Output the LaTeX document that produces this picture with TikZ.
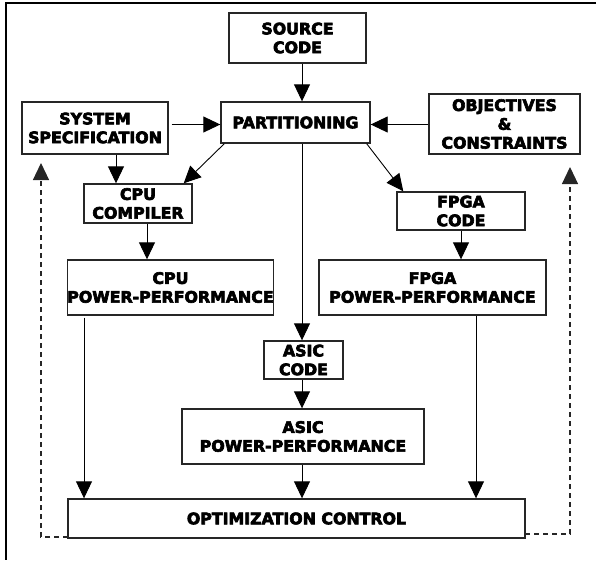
\documentclass[tikz,border=0pt]{standalone}
\usepackage{fontspec}
\newfontfamily\boxfont{DejaVu Sans}[BoldFeatures={FakeBold=4}]
\usetikzlibrary{arrows.meta,calc}
\begin{document}
\begin{tikzpicture}[x=1pt,y=-1pt,
  blk/.style={draw=black!85,line width=1.4pt,inner sep=0pt,align=center,
    font=\boxfont\bfseries\fontsize{15.8}{18.8}\selectfont},
  arr/.style={line width=0.9pt,-{Triangle[length=17pt,width=16pt]}},
  darr/.style={line width=1.2pt,dash pattern=on 5pt off 4pt,draw=black!85,-{Triangle[length=17pt,width=16pt]}}]
\useasboundingbox (0,0) rectangle (597,560);
\draw[line width=2pt] (596,2.5) -- (6,2.5) -- (6,560);
% boxes
\node[blk,minimum width=137pt,minimum height=50pt] (src) at (297.5,38) {SOURCE\\CODE};
\node[blk,minimum width=149pt,minimum height=41pt] (part) at (295.5,122.5) {PARTITIONING};
\node[blk,minimum width=146pt,minimum height=52pt] (sys) at (95,128) {SYSTEM\\SPECIFICATION};
\node[blk,minimum width=151pt,minimum height=60pt] (obj) at (504.5,124) {OBJECTIVES\\\&\\CONSTRAINTS};
\node[blk,minimum width=108pt,minimum height=39pt] (cpuc) at (138,203.5) {CPU\\COMPILER};
\node[blk,minimum width=128pt,minimum height=38pt] (fpgac) at (461,211) {FPGA\\CODE};
\node[blk,minimum width=205pt,minimum height=55pt] (cpupp) at (170.5,287.5) {CPU\\POWER-PERFORMANCE};
\node[blk,minimum width=227pt,minimum height=55pt] (fpgapp) at (432.5,287.5) {FPGA\\POWER-PERFORMANCE};
\node[blk,minimum width=79pt,minimum height=38pt] (asicc) at (303.5,360) {ASIC\\CODE};
\node[blk,minimum width=242pt,minimum height=55pt] (asicpp) at (303,436.5) {ASIC\\POWER-PERFORMANCE};
\node[blk,minimum width=457pt,minimum height=39pt] (opt) at (296.5,518.5) {OPTIMIZATION CONTROL};
% helper coordinates
\coordinate (cx) at (302,0);
\coordinate (cy) at (0,124.5);
\coordinate (c1) at (116,0);
\coordinate (c2) at (147,0);
\coordinate (c3) at (84,0);
\coordinate (c4) at (476,0);
\coordinate (dl) at (41,163);
\coordinate (dr) at (570,167);
\coordinate (dls) at (68,537);
\coordinate (drs) at (525,534);
% connectors
\draw[arr] (src.south -| cx) -- (part.north -| cx);
\draw[arr] (part.south -| cx) -- (asicc.north -| cx);
\draw[arr] (asicc.south -| cx) -- (asicpp.north -| cx);
\draw[arr] (asicpp.south -| cx) -- (opt.north -| cx);
\draw[arr] ($(sys.east |- cy)+(3,0)$) -- (part.west |- cy);
\draw[arr] (obj.west |- cy) -- (part.east |- cy);
\draw[arr] (sys.south -| c1) -- (cpuc.north -| c1);
\draw[arr] ($(part.south west)+(4,0)$) -- ($(cpuc.north east)+(-9,0)$);
\draw[arr] ($(part.south east)+(-4,0)$) -- ($(fpgac.north west)+(7,0)$);
\draw[arr] (cpuc.south -| c2) -- (cpupp.north -| c2);
\draw[arr] (fpgac.south) -- (fpgac.south |- fpgapp.north);
\draw[arr] ($(cpupp.south -| c3)+(0,2)$) -- (opt.north -| c3);
\draw[arr] (fpgapp.south -| c4) -- (opt.north -| c4);
\draw[darr] (dls) -| (dl);
\draw[darr] (drs) -| (dr);
\end{tikzpicture}
\end{document}
